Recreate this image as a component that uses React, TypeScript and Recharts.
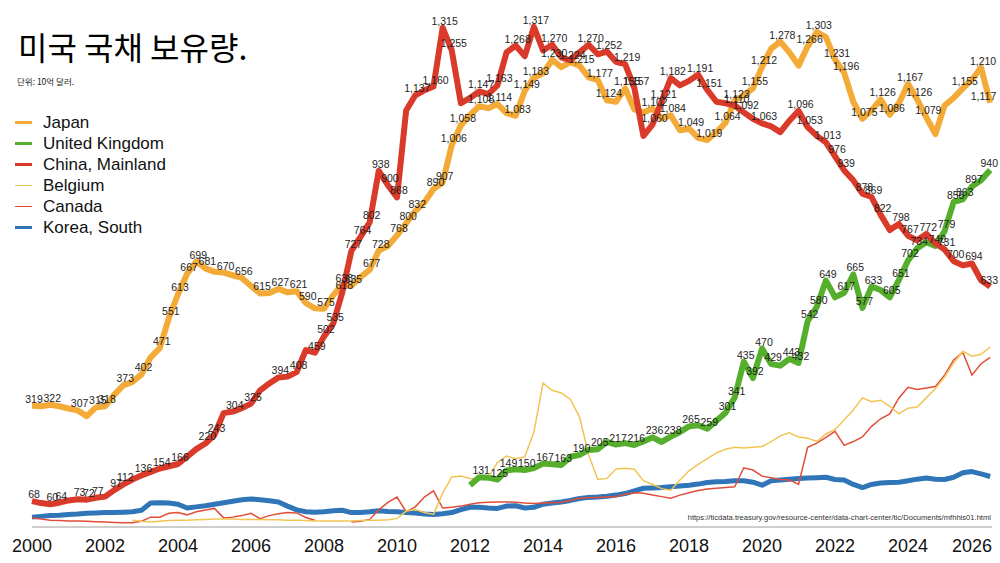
import { LineChart, Line, XAxis, YAxis } from "recharts";

// quarterly readings, 2000 Q1 .. 2026 Q2 (10억 달러)
const japan = [
  319, 318, 322, 318, // 2000
  312, 307, 292, 315,
  318, 348, 373, 382,
  402, 447, 471, 551,
  613, 667, 699, 681, // 2004
  672, 670, 663, 656,
  635, 615, 616, 627,
  618, 621, 590, 576,
  575, 610, 638, 635, // 2008
  658, 677, 728, 740,
  768, 800, 832, 855,
  890, 907, 1006, 1058,
  1085, 1108, 1103, 1114, // 2012
  1090, 1083, 1149, 1183,
  1195, 1230, 1211, 1224,
  1215, 1184, 1177, 1124,
  1120, 1155, 1100, 1092, // 2016
  1102, 1076, 1084, 1045,
  1049, 1025, 1019, 1040,
  1064, 1123, 1137, 1155,
  1212, 1260, 1278, 1250, // 2020
  1215, 1266, 1303, 1290,
  1231, 1196, 1120, 1075,
  1097, 1126, 1086, 1116,
  1167, 1126, 1079, 1035, // 2024
  1110, 1130, 1155, 1178,
  1210, 1117,
];

const china = [
  68, 63, 60, 64,
  70, 73, 72, 77,
  80, 97, 112, 125,
  136, 145, 154, 160,
  166, 185, 205, 220,
  243, 300, 304, 313,
  325, 360, 378, 394,
  396, 408, 466, 459,
  502, 535, 618, 727,
  764, 802, 938, 900,
  868, 1097, 1137, 1150,
  1160, 1315, 1255, 1116,
  1130, 1147, 1140, 1163,
  1250, 1268, 1240, 1317,
  1255, 1270, 1237, 1229,
  1250, 1270, 1245, 1252,
  1225, 1219, 1157, 1030,
  1060, 1121, 1182, 1163,
  1175, 1191, 1151, 1120,
  1116, 1110, 1092, 1075,
  1063, 1055, 1040, 1070,
  1096, 1053, 1030, 1013,
  976, 939, 913, 878,
  869, 822, 782, 798,
  767, 755, 772, 747,
  731, 700, 689, 694,
  650, 633,
];

const uk = [
  null, null, null, null, null, null, null, null, null, null, null, null, // 2000-2002
  null, null, null, null, null, null, null, null, null, null, null, null, // 2003-2005
  null, null, null, null, null, null, null, null, null, null, null, null, // 2006-2008
  null, null, null, null, null, null, null, null, null, null, null, null, // 2009-2011
  110, 131, 130, 125,
  149, 152, 150, 155,
  167, 165, 163, 185,
  190, 203, 205, 224,
  217, 221, 216, 225,
  236, 224, 238, 250,
  265, 268, 259, 280,
  301, 341, 435, 392,
  470, 429, 425, 443,
  432, 542, 580, 649,
  605, 617, 665, 577,
  633, 624, 605, 651,
  702, 734, 750, 740,
  779, 856, 863, 897,
  913, 940,
];

const belgium = [
  null, null, null, null,
  null, null, null, null,
  null, null, null, 18,
  15, 13, 15, 17,
  18, 18, 19, 20,
  21, 21, 21, 20,
  20, 20, 19, 19,
  18, 18, 17, 16,
  16, 16, 16, 16,
  17, 18, 18, 19,
  22, 42, 46, 38,
  33, 89, 132, 134,
  128, 126, 130, 170,
  187, 180, 185, 250,
  379, 360, 353, 336,
  290, 190, 125, 128,
  153, 155, 152, 122,
  112, 101, 97, 124,
  148, 165, 180, 195,
  205, 210, 208, 210,
  212, 225, 240, 248,
  237, 234, 225, 245,
  257, 282, 308, 340,
  330, 334, 318, 298,
  313, 316, 340, 365,
  395, 432, 463, 450,
  455, 474,
];

const canada = [
  24, 21, 18, 17,
  16, 16, 15, 14,
  13, 12, 11, 11,
  15, 26, 26, 36,
  38, 32, 40, 45,
  49, 24, 26, 30,
  36, 22, 30, 35,
  38, 37, 25, 18,
  null, null, null, 13,
  15, 20, 45, 65,
  79, 40, 53, 79,
  95, 50, 52, 55,
  60, 64, 65, 66,
  66, 65, 63, 62,
  63, 64, 65, 70,
  76, 77, 78, 79,
  80, 86, 90, 89,
  84, 80, 76, 84,
  90, 96, 100, 102,
  104, 106, 156, 150,
  134, 130, 125, 124,
  112, 210, 221, 236,
  252, 215, 225, 237,
  265, 285, 298, 340,
  368, 362, 366, 370,
  400, 440, 460, 400,
  430, 447,
];

const korea = [
  26, 28, 30, 31,
  33, 34, 36, 37,
  38, 38, 39, 40,
  44, 63, 64, 63,
  60, 50, 53, 56,
  60, 64, 68, 72,
  74, 72, 69, 66,
  55, 45, 40, 39,
  40, 43, 44, 38,
  38, 40, 43, 41,
  40, 38, 37, 34,
  33, 35, 38, 46,
  52, 52, 50, 49,
  55, 56, 50, 52,
  60, 63, 66, 70,
  75, 78, 79, 81,
  84, 88, 95, 102,
  103, 104, 106, 108,
  110, 113, 117, 119,
  120, 122, 122, 118,
  110, 122, 124, 126,
  128, 129, 130, 131,
  125, 124, 112, 104,
  112, 116, 117, 118,
  122, 126, 129, 126,
  125, 131, 143, 146,
  140, 133,
];

// quarter indexes that carry a value label
const japanLabelAt = [0, 2, 5, 7, 8, 10, 12, 14, 15, 16, 17, 18, 19, 21, 23, 25, 27, 29, 30, 32, 34, 35, 37, 38, 40, 41, 42, 44, 45, 46, 47, 49, 51, 53, 54, 55, 57, 59, 60, 62, 63, 65, 68, 70, 72, 74, 76, 77, 79, 80, 82, 85, 86, 88, 89, 91, 93, 94, 96, 97, 98, 102, 104, 105];
const chinaLabelAt = [0, 2, 3, 5, 6, 7, 9, 10, 12, 14, 16, 19, 20, 22, 24, 27, 29, 31, 32, 33, 34, 35, 36, 37, 38, 39, 40, 42, 44, 45, 46, 49, 51, 53, 55, 57, 61, 63, 65, 66, 68, 69, 70, 73, 74, 77, 78, 80, 84, 85, 87, 88, 89, 91, 92, 93, 95, 96, 98, 100, 101, 103, 105];
const ukLabelAt = [49, 51, 52, 54, 56, 58, 60, 62, 64, 66, 68, 70, 72, 74, 76, 77, 78, 79, 80, 81, 83, 84, 85, 86, 87, 89, 90, 91, 92, 94, 95, 96, 97, 99, 100, 101, 102, 103, 105];

const yearTicks = [2000, 2002, 2004, 2006, 2008, 2010, 2012, 2014, 2016, 2018, 2020, 2022, 2024, 2026];

const data = japan.map((v, i) => ({
  t: 2000 + i / 4,
  japan: v,
  uk: uk[i],
  china: china[i],
  belgium: belgium[i],
  canada: canada[i],
  korea: korea[i],
}));

const legend = [
  { name: "Japan", color: "#F3AA37", w: 3 },
  { name: "United Kingdom", color: "#55AF2C", w: 3 },
  { name: "China, Mainland", color: "#D93A29", w: 3 },
  { name: "Belgium", color: "#F2C453", w: 1.5 },
  { name: "Canada", color: "#E14D38", w: 1.5 },
  { name: "Korea, South", color: "#2F75B8", w: 3 },
];

const sans = "'Liberation Sans', Arial, Helvetica, sans-serif";

const labelDot = (marks: number[]) => (props: any) => {
  const { cx, cy, index, value } = props;
  const v = Array.isArray(value) ? value[1] : value;
  if (!marks.includes(index) || cy == null || v == null) return <g key={`l${index}`} />;
  const txt = Number(v).toLocaleString("en-US");
  // keep the last labels inside the picture
  const half = txt.length * 2.9;
  const x = Math.min(cx + 2, 998 - half);
  return (
    <text key={`l${index}`} x={x} y={cy - 3} textAnchor="middle" fontSize={10.5} fontFamily={sans} fill="#1e1e1e">
      {txt}
    </text>
  );
};

const YearTick = (props: any) => {
  const { x, y, payload } = props;
  const last = payload.value === 2026;
  return (
    <text
      x={last ? x + 11 : x}
      y={y}
      dy="0.71em"
      textAnchor={last ? "end" : "middle"}
      fontSize={18}
      fontFamily={sans}
      fill="#111"
    >
      {payload.value}
    </text>
  );
};

export default function App() {
  return (
    <div style={{ position: "absolute", left: 0, top: 0, width: 1000, height: 563, background: "#fff" }}>
      <LineChart width={1000} height={563} data={data} margin={{ top: 3, right: 8, bottom: 6, left: 32 }}>
        <XAxis
          dataKey="t"
          type="number"
          domain={[2000, 2026.3]}
          ticks={yearTicks}
          interval={0}
          tickLine={false}
          tickSize={0}
          tickMargin={12}
          axisLine={{ stroke: "#9c9c9c", strokeWidth: 1 }}
          tick={<YearTick />}
        />
        <YAxis hide domain={[0, 1380]} />
        <Line dataKey="korea" stroke="#2F75B8" strokeWidth={5} dot={false} activeDot={false} isAnimationActive={false} strokeLinejoin="round" />
        <Line dataKey="canada" stroke="#E14D38" strokeWidth={1.5} dot={false} activeDot={false} isAnimationActive={false} />
        <Line dataKey="belgium" stroke="#F2C453" strokeWidth={1.5} dot={false} activeDot={false} isAnimationActive={false} />
        <Line dataKey="uk" stroke="#55AF2C" strokeWidth={6} dot={false} activeDot={false} isAnimationActive={false} strokeLinejoin="round" />
        <Line dataKey="japan" stroke="#F3AA37" strokeWidth={6} dot={false} activeDot={false} isAnimationActive={false} strokeLinejoin="round" />
        <Line dataKey="china" stroke="#D93A29" strokeWidth={6} dot={false} activeDot={false} isAnimationActive={false} strokeLinejoin="round" />
        {/* value labels on top of every line */}
        <Line dataKey="japan" stroke="none" dot={labelDot(japanLabelAt)} activeDot={false} isAnimationActive={false} legendType="none" />
        <Line dataKey="china" stroke="none" dot={labelDot(chinaLabelAt)} activeDot={false} isAnimationActive={false} legendType="none" />
        <Line dataKey="uk" stroke="none" dot={labelDot(ukLabelAt)} activeDot={false} isAnimationActive={false} legendType="none" />
      </LineChart>

      <div style={{ position: "absolute", left: 18, top: 29, fontFamily: "'Noto Sans CJK KR', sans-serif", fontSize: 32, lineHeight: "34px", color: "#000" }}>
        미국 국채 보유량.
      </div>
      <div style={{ position: "absolute", left: 17, top: 76, fontFamily: "'Noto Sans CJK KR', sans-serif", fontSize: 8.5, lineHeight: "10px", color: "#222" }}>
        단위: 10억 달러.
      </div>

      <div style={{ position: "absolute", left: 15, top: 112 }}>
        {legend.map((s) => (
          <div key={s.name} style={{ display: "flex", alignItems: "center", height: 21 }}>
            <div style={{ width: 17, height: s.w, background: s.color, marginRight: 11 }} />
            <span style={{ fontFamily: sans, fontSize: 17, color: "#111" }}>{s.name}</span>
          </div>
        ))}
      </div>

      <div style={{ position: "absolute", right: 9, top: 513, fontFamily: sans, fontSize: 7.6, color: "#333" }}>
        https://ticdata.treasury.gov/resource-center/data-chart-center/tic/Documents/mfhhis01.html
      </div>
    </div>
  );
}
